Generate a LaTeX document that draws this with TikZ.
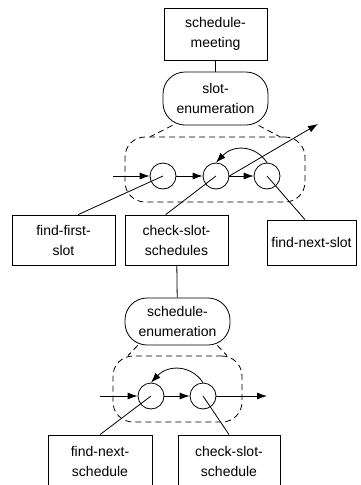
\documentclass[tikz,border=0pt]{standalone}
\usepackage{fontspec}
\setmainfont{Liberation Sans}
\usetikzlibrary{arrows.meta}

\begin{document}
\begin{tikzpicture}[x=1pt, y=-1pt, font=\fontsize{14}{20}\selectfont, >={Latex[length=10pt,width=7pt]}, line width=0.8pt,
      taskbox/.style={draw, align=center, inner sep=0pt},
      enumbox/.style={draw, rounded corners=22pt, align=center, inner sep=0pt},
      statenode/.style={draw, circle, minimum size=26pt, inner sep=0pt},
      framebox/.style={draw, dash pattern=on 6pt off 4pt, rounded corners=20pt, minimum size=0pt, inner sep=0pt},
      zoomline/.style={dash pattern=on 6pt off 4pt}]
    \useasboundingbox (0,0) rectangle (361,485);
    \node[taskbox, minimum width=103pt, minimum height=52pt] (meet) at (215.5,34) {schedule-\\meeting};
    \node[enumbox, minimum width=105pt, minimum height=53pt] (slotenum) at (215.5,98.5) {slot-\\enumeration};
    \draw (meet) -- (slotenum);
    % slot loop
    \node[framebox, minimum width=180pt, minimum height=65pt] (slotframe) at (215,169.5) {};
    \draw[zoomline] (slotenum.212) -- (slotframe.153);
    \draw[zoomline] (slotenum.-32) -- (slotframe.27);
    \node[statenode] (c1) at (163,176) {};
    \node[statenode] (c2) at (216,176) {};
    \node[statenode] (c3) at (267,176) {};
    \coordinate (slotin) at (113,176);
    \coordinate (slotout) at (318,124);
    \draw[->] (slotin) -- (c1);
    \draw[->] (c1) -- (c2);
    \draw[->] (c2) -- (c3);
    \draw[->] (c3.north) .. controls +(-12,-18) and +(17,-18) .. (c2.north);
    \draw[->] (c2.east) -- (slotout);
    \node[taskbox, minimum width=103pt, minimum height=50pt] (ffs) at (63.5,240) {find-first-\\slot};
    \node[taskbox, minimum width=103pt, minimum height=50pt] (css) at (176.5,240) {check-slot-\\schedules};
    \node[taskbox, minimum width=89pt, minimum height=45pt] (fns) at (311.5,242.5) {find-next-slot};
    \draw (ffs.60) -- (c1.center);
    \draw (css.113) -- (c2.center);
    \draw (fns.106) -- (c3.center);
    % schedule loop
    \node[enumbox, minimum width=105pt, minimum height=47pt] (schenum) at (177.5,321.5) {schedule-\\enumeration};
    \draw (css) -- (schenum);
    \node[framebox, minimum width=129pt, minimum height=66pt] (schedframe) at (177.5,389) {};
    \draw[zoomline] (schenum.211) -- (schedframe.146);
    \draw[zoomline] (schenum.-31) -- (schedframe.34);
    \node[statenode] (d1) at (151,396) {};
    \node[statenode] (d2) at (203,396) {};
    \coordinate (schedin) at (100,396);
    \coordinate (schedout) at (267,396);
    \draw[->] (schedin) -- (d1);
    \draw[->] (d1) -- (d2);
    \draw[->] (d2) -- (schedout);
    \draw[->] (d2.north) .. controls +(-12,-18) and +(17,-18) .. (d1.north);
    \node[taskbox, minimum width=104pt, minimum height=52pt] (fnsch) at (100,461) {find-next-\\schedule};
    \node[taskbox, minimum width=102pt, minimum height=52pt] (css2) at (229,461) {check-slot-\\schedule};
    \draw (fnsch.north) -- (d1.center);
    \draw (css2.north) -- (d2.center);
\end{tikzpicture}
\end{document}
